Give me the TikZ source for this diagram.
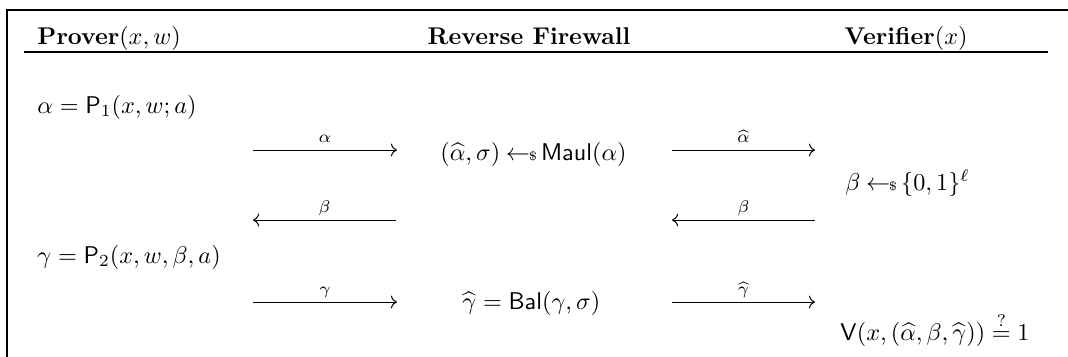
\documentclass[tikz,border=0pt]{standalone}
\usepackage{amsmath}
\usetikzlibrary{arrows.meta}
% sampling arrow: left arrow followed by a tiny dollar sign
\newcommand{\smp}{\hskip2.3pt{\gets\!\!\mbox{\tiny$\$$}}\,}
\begin{document}
\begin{tikzpicture}[x=0.413pt,y=-0.413pt,
  frame/.style={line width=0.6pt},
  lft/.style={inner sep=0pt, anchor=base west},
  ctr/.style={inner sep=0pt, anchor=base},
  msg/.style={-{Computer Modern Rightarrow}, line width=0.42pt},
  lbl/.style={midway, inner sep=0pt, anchor=base, yshift=3.3pt, font=\scriptsize}]
\useasboundingbox (0,0) rectangle (1068,356);

% open frame and header rule
\draw[frame] (7,362) -- (7,10) -- (1072,10);
\draw[frame] (24,52) -- (1048,52);

% column headers
\node[lft] (prover) at (37,44) {\textbf{Prover}$(x,w)$};
\node[ctr] (rfw) at (529,44) {\textbf{Reverse Firewall}};
\node[ctr] (verifier) at (906,44) {\textbf{Verifier}$(x)$};

% prover steps
\node[lft] (p1) at (37,113) {$\alpha = \mathsf{P}_1(x,w;a)$};
\node[lft] (p2) at (37,263) {$\gamma = \mathsf{P}_2(x,w,\beta,a)$};

% firewall steps
\node[lft] (maul) at (440,160) {$(\widehat{\alpha},\sigma) \smp \mathsf{Maul}(\alpha)$};
\node[lft] (bal) at (462,309) {$\widehat{\gamma} = \mathsf{Bal}(\gamma,\sigma)$};

% verifier steps
\node[lft] (chal) at (845,190) {$\beta \smp \{0,1\}^{\ell}$};
\node[lft] (check) at (840,340) {$\mathsf{V}(x,(\widehat{\alpha},\beta,\widehat{\gamma})) \stackrel{?}{=} 1$};

% message endpoints
\coordinate (l1) at (253,150); \coordinate (l2) at (397,150);
\coordinate (r1) at (672,150); \coordinate (r2) at (815,150);
\coordinate (l3) at (253,220); \coordinate (l4) at (396,220);
\coordinate (r3) at (672,220); \coordinate (r4) at (815,220);
\coordinate (l5) at (253,302); \coordinate (l6) at (397,302);
\coordinate (r5) at (672,302); \coordinate (r6) at (815,302);

% messages
\draw[msg] (l1) -- node[lbl]{$\alpha$} (l2);
\draw[msg] (r1) -- node[lbl]{$\widehat{\alpha}$} (r2);
\draw[msg] (l4) -- node[lbl]{$\beta$} (l3);
\draw[msg] (r4) -- node[lbl]{$\beta$} (r3);
\draw[msg] (l5) -- node[lbl]{$\gamma$} (l6);
\draw[msg] (r5) -- node[lbl]{$\widehat{\gamma}$} (r6);
\end{tikzpicture}
\end{document}
